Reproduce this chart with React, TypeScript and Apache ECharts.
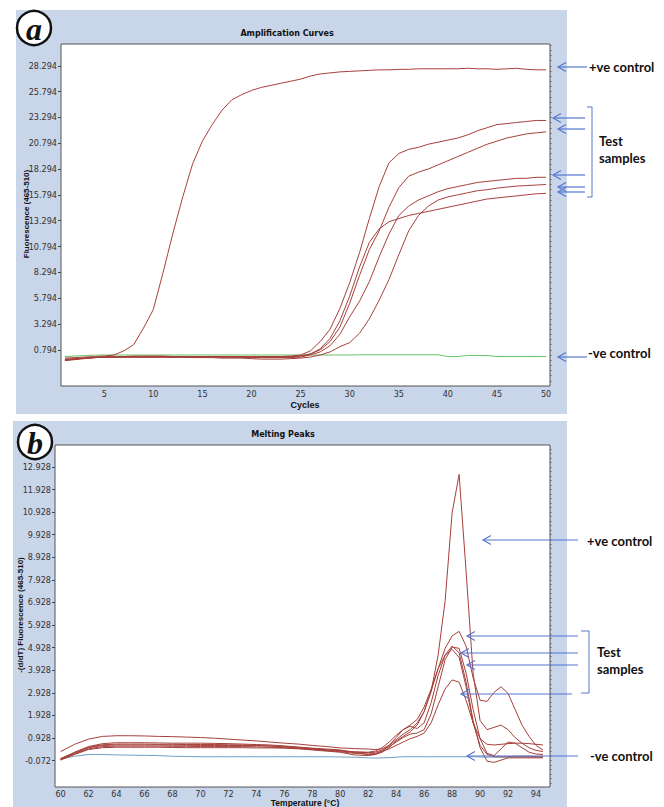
import React, { useEffect, useRef } from "react";
import * as echarts from "echarts";

// ---------- Panel (a): amplification curves ----------
const cycles = [1,2,3,4,5,6,7,8,9,10,11,12,13,14,15,16,17,18,19,20,21,22,23,24,25,26,27,28,29,30,31,32,33,34,35,36,37,38,39,40,41,42,43,44,45,46,47,48,49,50];
const ampPosControl = [0.0,0.05,0.1,0.15,0.2,0.3,0.7,1.3,2.9,4.7,8.3,12.1,15.6,18.8,21.0,22.6,24.0,25.0,25.5,25.9,26.2,26.4,26.6,26.8,27.0,27.3,27.5,27.6,27.7,27.75,27.8,27.85,27.9,27.9,27.95,27.95,28.0,28.0,28.0,28.0,28.0,28.05,28.0,28.0,27.95,28.0,28.05,27.95,27.9,27.9];
const ampTestA = [-0.2,-0.1,0.0,0.05,0.1,0.15,0.15,0.2,0.2,0.2,0.2,0.15,0.15,0.15,0.15,0.15,0.15,0.15,0.15,0.15,0.15,0.15,0.15,0.2,0.3,0.7,1.6,2.8,4.8,7.3,10.2,13.5,16.6,18.9,19.8,20.2,20.4,20.7,20.9,21.1,21.3,21.6,22.0,22.3,22.6,22.7,22.8,22.9,23.0,23.0];
const ampTestB = [-0.25,-0.15,-0.05,0.05,0.1,0.1,0.12,0.12,0.12,0.12,0.12,0.1,0.1,0.1,0.1,0.1,0.1,0.1,0.1,0.1,0.1,0.08,0.08,0.1,0.2,0.4,0.8,1.6,3.0,5.3,8.0,10.5,12.3,14.6,16.5,17.6,18.0,18.3,18.7,19.1,19.5,19.9,20.3,20.7,21.0,21.3,21.5,21.7,21.8,21.9];
const ampTestC = [-0.15,-0.1,0.0,0.05,0.08,0.1,0.1,0.1,0.1,0.1,0.1,0.1,0.1,0.1,0.1,0.1,0.1,0.1,0.05,0.05,0.05,0.05,0.05,0.05,0.1,0.3,0.6,1.2,2.3,4.0,5.5,7.4,9.8,12.0,13.8,14.7,15.3,15.7,16.1,16.4,16.6,16.8,17.0,17.1,17.2,17.3,17.4,17.4,17.5,17.5];
const ampTestD = [-0.2,-0.1,0.0,0.05,0.08,0.1,0.1,0.1,0.1,0.1,0.1,0.1,0.1,0.05,0.05,0.05,0.0,0.0,0.0,-0.05,-0.1,-0.1,-0.1,-0.05,0.0,0.1,0.3,0.6,1.1,1.5,2.4,3.8,5.6,7.6,10.0,12.3,13.8,14.7,15.3,15.6,15.8,16.0,16.2,16.3,16.45,16.55,16.65,16.7,16.75,16.8];
const ampTestE = [-0.1,-0.05,0.0,0.05,0.1,0.12,0.12,0.12,0.12,0.12,0.12,0.12,0.12,0.12,0.12,0.12,0.12,0.12,0.12,0.12,0.12,0.12,0.12,0.15,0.2,0.4,0.9,1.9,3.6,6.0,8.8,11.2,12.5,13.2,13.5,13.8,14.0,14.2,14.4,14.6,14.8,15.0,15.2,15.4,15.5,15.6,15.7,15.8,15.9,15.95];
const ampNegControl = [0.15,0.2,0.25,0.28,0.3,0.3,0.3,0.3,0.3,0.3,0.3,0.3,0.3,0.3,0.3,0.3,0.3,0.3,0.3,0.3,0.3,0.3,0.3,0.3,0.3,0.3,0.3,0.3,0.3,0.3,0.32,0.32,0.32,0.32,0.32,0.32,0.32,0.32,0.32,0.15,0.15,0.25,0.25,0.25,0.15,0.15,0.15,0.15,0.15,0.15];
const ampYTicks = [0.794,3.294,5.794,8.294,10.794,13.294,15.794,18.294,20.794,23.294,25.794,28.294];
const ampXTicks = [5,10,15,20,25,30,35,40,45,50];

// ---------- Panel (b): melting peaks ----------
const temps = [60,61,62,63,64,65,66,67,68,69,70,71,72,73,74,75,76,77,78,79,80,81,82,82.5,83,83.5,84,84.5,85,85.5,86,86.5,87,87.5,88,88.5,89,89.5,90,90.5,91,91.5,92,92.5,93,93.5,94,94.5];
const meltPosControl = [0.33,0.65,0.88,1.0,1.03,1.03,1.02,1.0,0.99,0.97,0.95,0.92,0.88,0.84,0.8,0.75,0.7,0.66,0.6,0.55,0.49,0.46,0.44,0.42,0.45,0.6,0.85,1.1,1.3,1.6,2.1,3.0,4.6,7.0,10.9,12.6,8.3,3.8,1.7,1.3,1.4,1.5,1.3,0.95,0.7,0.5,0.38,0.33];
const meltTest1 = [0.0,0.3,0.55,0.68,0.72,0.72,0.72,0.71,0.7,0.7,0.7,0.69,0.68,0.66,0.64,0.62,0.58,0.53,0.48,0.44,0.4,0.28,0.2,0.2,0.3,0.5,0.8,1.0,1.2,1.5,2.1,3.0,4.0,4.9,5.45,5.65,5.0,3.6,2.6,2.55,2.95,3.2,2.9,2.2,1.5,1.0,0.6,0.4];
const meltTest2 = [-0.05,0.2,0.42,0.5,0.52,0.52,0.52,0.52,0.51,0.5,0.5,0.5,0.5,0.5,0.49,0.49,0.48,0.45,0.4,0.35,0.3,0.18,0.15,0.2,0.35,0.6,0.95,1.3,1.45,1.35,1.6,2.5,3.7,4.6,5.0,4.7,3.4,1.7,0.5,-0.1,-0.15,-0.05,0.05,0.05,0.05,0.05,0.05,0.05];
const meltTest3 = [0.0,0.25,0.5,0.6,0.62,0.62,0.62,0.62,0.61,0.61,0.6,0.6,0.6,0.6,0.6,0.57,0.53,0.5,0.45,0.4,0.35,0.3,0.28,0.3,0.4,0.55,0.75,0.95,1.1,1.15,1.3,2.0,3.2,4.4,4.95,4.9,3.8,2.2,0.9,0.25,0.15,0.45,0.75,0.7,0.5,0.3,0.22,0.2];
const meltTest4 = [-0.02,0.22,0.45,0.55,0.57,0.57,0.57,0.57,0.56,0.56,0.55,0.55,0.55,0.55,0.54,0.52,0.5,0.47,0.42,0.37,0.32,0.25,0.22,0.25,0.35,0.45,0.6,0.75,0.9,1.0,1.15,1.6,2.4,3.1,3.5,3.4,2.6,1.6,0.9,0.65,0.62,0.65,0.68,0.7,0.7,0.68,0.65,0.62];
const meltTest5 = [0.02,0.28,0.52,0.63,0.66,0.66,0.66,0.65,0.65,0.64,0.64,0.64,0.63,0.62,0.6,0.58,0.55,0.5,0.46,0.42,0.38,0.32,0.3,0.35,0.5,0.75,1.05,1.3,1.5,1.75,2.3,3.1,4.0,4.6,4.85,4.5,3.2,1.6,0.6,0.2,0.1,0.1,0.1,0.12,0.12,0.12,0.1,0.1];
const meltNegControl = [0.0,0.12,0.2,0.2,0.18,0.17,0.16,0.15,0.12,0.11,0.1,0.1,0.1,0.1,0.1,0.1,0.1,0.1,0.1,0.1,0.09,0.08,0.05,0.04,0.05,0.06,0.08,0.1,0.1,0.1,0.1,0.1,0.1,0.1,0.1,0.1,0.1,0.1,0.09,0.08,0.08,0.08,0.08,0.08,0.08,0.08,0.08,0.08];
const meltYTicks = [-0.072,0.928,1.928,2.928,3.928,4.928,5.928,6.928,7.928,8.928,9.928,10.928,11.928,12.928];
const meltXTicks = [60,62,64,66,68,70,72,74,76,78,80,82,84,86,88,90,92,94];

const LINE_RED = "#a6403a";
const PANEL_BG = "#c9d5e9";
const ARROW = "#5577d0";
const AXIS_FONT = "'Liberation Sans Narrow', 'DejaVu Sans Condensed', 'Liberation Sans', Arial, sans-serif";

function pairs(xs: number[], ys: number[]) {
  return xs.map((x, i) => [x, ys[i]]);
}

function minorTicks(start: number, step: number, lo: number, hi: number) {
  const out: number[] = [];
  let v = start;
  while (v - step >= lo) v -= step;
  for (; v <= hi; v += step) out.push(+v.toFixed(4));
  return out;
}

function lineSeries(name: string, xs: number[], ys: number[], xi: number, yi: number, color: string) {
  return {
    name,
    type: "line",
    xAxisIndex: xi,
    yAxisIndex: yi,
    data: pairs(xs, ys),
    showSymbol: false,
    symbol: "none",
    lineStyle: { color, width: 1 },
    z: 3,
  };
}

function arrow(x1: number, y: number, x2: number) {
  return [
    { type: "line", shape: { x1, y1: y, x2, y2: y }, style: { stroke: ARROW, lineWidth: 1.2 }, z: 20 },
    {
      type: "polyline",
      shape: { points: [[x2 + 8, y - 4.5], [x2, y], [x2 + 8, y + 4.5]] },
      style: { stroke: ARROW, lineWidth: 1.2, fill: null },
      z: 20,
    },
  ];
}

function label(text: string, x: number, y: number) {
  return {
    type: "text",
    x,
    y,
    z: 20,
    style: {
      text,
      fill: "#111",
      fontFamily: "Lato, 'Open Sans', sans-serif",
      fontWeight: "bold",
      fontSize: 13,
      align: "left",
      verticalAlign: "middle",
      textAlign: "left",
      textVerticalAlign: "middle",
    },
  };
}

function plainText(text: string, x: number, y: number, size: number, family: string, rotation = 0) {
  return {
    type: "text",
    x,
    y,
    rotation,
    z: 20,
    style: {
      text,
      fill: "#111",
      fontFamily: family,
      fontWeight: "bold",
      fontSize: size,
      align: "center",
      verticalAlign: "middle",
      textAlign: "center",
      textVerticalAlign: "middle",
    },
  };
}

function badge(letter: string, cx: number, cy: number) {
  return [
    { type: "circle", shape: { cx, cy, r: 17 }, style: { fill: "#fff", stroke: "#111", lineWidth: 2.5 }, z: 20 },
    {
      type: "text",
      x: cx,
      y: cy + 1,
      z: 21,
      style: {
        text: letter,
        fill: "#111",
        fontFamily: "'Liberation Serif', 'DejaVu Serif', serif",
        fontWeight: "bold",
        fontStyle: "italic",
        fontSize: 32,
        align: "center",
        verticalAlign: "middle",
        textAlign: "center",
        textVerticalAlign: "middle",
      },
    },
  ];
}

export default function App() {
  const ref = useRef<HTMLDivElement>(null);

  useEffect(() => {
    if (!ref.current) return;
    const chart = echarts.init(ref.current, undefined, { renderer: "svg" });

    const ampMin = -2.7, ampMax = 30.4;
    const meltMin = -1.24, meltMax = 13.9;

    const axisLabelStyle = { color: "#333", fontSize: 9, fontFamily: AXIS_FONT };

    const option: any = {
      animation: false,
      backgroundColor: "#fff",
      grid: [
        { left: 61, top: 44, width: 489, height: 342, show: true, backgroundColor: "#fff", borderColor: "#555", borderWidth: 1, z: 1 },
        { left: 55, top: 445, width: 495, height: 342, show: true, backgroundColor: "#fff", borderColor: "#555", borderWidth: 1, z: 1 },
      ],
      xAxis: [
        {
          type: "value", gridIndex: 0, min: 0.6, max: 50.4,
          axisLine: { show: false }, splitLine: { show: false },
          axisTick: { show: true, customValues: ampXTicks, length: 3, lineStyle: { color: "#444" } },
          axisLabel: { ...axisLabelStyle, customValues: ampXTicks, margin: 3 },
        },
        {
          type: "value", gridIndex: 1, min: 59.6, max: 95.0,
          axisLine: { show: false }, splitLine: { show: false },
          axisTick: { show: true, customValues: meltXTicks, length: 3, lineStyle: { color: "#444" } },
          axisLabel: { ...axisLabelStyle, customValues: meltXTicks, margin: 2 },
        },
      ],
      yAxis: [
        {
          type: "value", gridIndex: 0, min: ampMin, max: ampMax,
          axisLine: { show: false }, splitLine: { show: false },
          axisTick: { show: true, customValues: ampYTicks, length: 3, lineStyle: { color: "#444" } },
          axisLabel: { ...axisLabelStyle, customValues: ampYTicks, margin: 4, formatter: (v: number) => v.toFixed(3) },
        },
        {
          type: "value", gridIndex: 0, min: ampMin, max: ampMax,
          axisLine: { show: false }, splitLine: { show: false }, axisLabel: { show: false },
          axisTick: { show: true, customValues: minorTicks(0.794, 0.5, ampMin, ampMax), length: 1.5, lineStyle: { color: "#666" } },
        },
        {
          type: "value", gridIndex: 1, min: meltMin, max: meltMax,
          axisLine: { show: false }, splitLine: { show: false },
          axisTick: { show: true, customValues: meltYTicks, length: 3, lineStyle: { color: "#444" } },
          axisLabel: { ...axisLabelStyle, customValues: meltYTicks, margin: 4, formatter: (v: number) => v.toFixed(3) },
        },
        {
          type: "value", gridIndex: 1, min: meltMin, max: meltMax,
          axisLine: { show: false }, splitLine: { show: false }, axisLabel: { show: false },
          axisTick: { show: true, customValues: minorTicks(-0.072, 0.2, meltMin, meltMax), length: 1.5, lineStyle: { color: "#666" } },
        },
      ],
      series: [
        lineSeries("-ve control", cycles, ampNegControl, 0, 0, "#66c266"),
        lineSeries("+ve control", cycles, ampPosControl, 0, 0, LINE_RED),
        lineSeries("Test A", cycles, ampTestA, 0, 0, LINE_RED),
        lineSeries("Test B", cycles, ampTestB, 0, 0, LINE_RED),
        lineSeries("Test C", cycles, ampTestC, 0, 0, LINE_RED),
        lineSeries("Test D", cycles, ampTestD, 0, 0, LINE_RED),
        lineSeries("Test E", cycles, ampTestE, 0, 0, LINE_RED),
        lineSeries("-ve control (melt)", temps, meltNegControl, 1, 2, "#6f9fc4"),
        lineSeries("+ve control (melt)", temps, meltPosControl, 1, 2, LINE_RED),
        lineSeries("Test 1 (melt)", temps, meltTest1, 1, 2, LINE_RED),
        lineSeries("Test 2 (melt)", temps, meltTest2, 1, 2, LINE_RED),
        lineSeries("Test 3 (melt)", temps, meltTest3, 1, 2, LINE_RED),
        lineSeries("Test 4 (melt)", temps, meltTest4, 1, 2, LINE_RED),
        lineSeries("Test 5 (melt)", temps, meltTest5, 1, 2, LINE_RED),
      ],
      graphic: [
        // panel backgrounds
        { type: "rect", shape: { x: 16, y: 10, width: 551, height: 404 }, style: { fill: PANEL_BG }, z: -10 },
        { type: "rect", shape: { x: 13, y: 421, width: 554, height: 390 }, style: { fill: PANEL_BG }, z: -10 },
        // titles and axis names
        plainText("Amplification Curves", 287, 33, 8, "'DejaVu Sans', sans-serif"),
        plainText("Fluorescence (465-510)", 26, 214, 8, "'Liberation Sans', Arial, sans-serif", Math.PI / 2),
        plainText("Cycles", 305, 405, 9, "'Liberation Sans', Arial, sans-serif"),
        plainText("Melting Peaks", 283, 434, 8, "'DejaVu Sans', sans-serif"),
        plainText("-(d/dT) Fluorescence (465-510)", 20, 615, 8, "'Liberation Sans', Arial, sans-serif", Math.PI / 2),
        plainText("Temperature (°C)", 305, 802.5, 8.5, "'Liberation Sans', Arial, sans-serif"),
        // badges
        ...badge("a", 34, 28),
        ...badge("b", 35, 442),
        // panel a annotations
        ...arrow(587, 67, 558),
        label("+ve control", 589, 67),
        ...arrow(585, 118, 553),
        ...arrow(585, 129, 558),
        ...arrow(585, 175, 553),
        ...arrow(585, 187, 558),
        ...arrow(585, 192, 558),
        { type: "polyline", shape: { points: [[587, 107], [592, 107], [592, 197], [587, 197]] }, style: { stroke: ARROW, lineWidth: 1, fill: null }, z: 20 },
        label("Test", 599, 141),
        label("samples", 599, 158),
        ...arrow(587, 357, 558),
        label("-ve control", 588, 353),
        // panel b annotations
        ...arrow(578, 540, 483),
        label("+ve control", 587, 541),
        ...arrow(578, 636, 467),
        ...arrow(578, 653, 461),
        ...arrow(578, 665, 467),
        ...arrow(572, 694, 461),
        { type: "polyline", shape: { points: [[581, 631], [589, 631], [589, 693], [581, 693]] }, style: { stroke: ARROW, lineWidth: 1, fill: null }, z: 20 },
        label("Test", 597, 652),
        label("samples", 597, 669),
        ...arrow(578, 756, 467),
        label("-ve control", 590, 756),
      ],
    };

    chart.setOption(option);
    return () => chart.dispose();
  }, []);

  return <div ref={ref} style={{ position: "fixed", left: 0, top: 0, width: 664, height: 807 }} />;
}
